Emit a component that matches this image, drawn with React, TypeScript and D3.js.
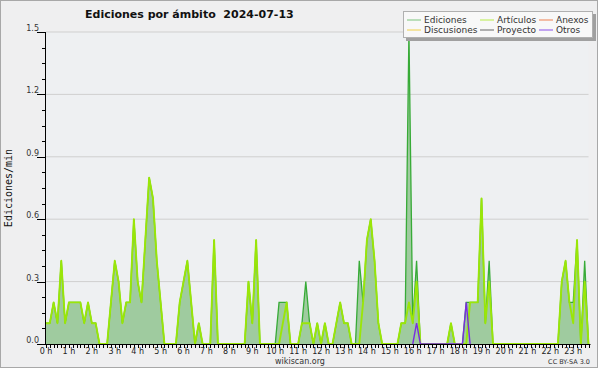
import React from 'react';
import * as d3 from 'd3';

// edits per minute, one value per 10 minutes from 00:00 to 23:20
const ediciones = [
  0.1, 0.1, 0.2, 0.1, 0.4, 0.1,
  0.2, 0.2, 0.2, 0.2, 0.1, 0.2,
  0.1, 0.1, 0, 0, 0, 0.2,
  0.4, 0.3, 0.1, 0.2, 0.2, 0.6,
  0.3, 0.2, 0.5, 0.8, 0.7, 0.4,
  0.2, 0, 0, 0, 0, 0.2,
  0.3, 0.4, 0.2, 0, 0.1, 0,
  0, 0, 0.5, 0, 0, 0,
  0, 0, 0, 0, 0, 0.3,
  0.1, 0.5, 0, 0, 0, 0,
  0, 0.2, 0.2, 0.2, 0, 0,
  0, 0.1, 0.3, 0.1, 0, 0.1,
  0, 0.1, 0, 0, 0.1, 0.2,
  0.1, 0.1, 0, 0, 0.4, 0.2,
  0.5, 0.6, 0.4, 0.1, 0, 0,
  0, 0, 0, 0.1, 0.1, 1.5,
  0.1, 0.4, 0, 0, 0, 0,
  0, 0, 0, 0, 0.1, 0,
  0, 0, 0.2, 0.2, 0.2, 0.2,
  0.7, 0.1, 0.4, 0, 0, 0,
  0, 0, 0, 0, 0, 0,
  0, 0, 0, 0, 0, 0,
  0, 0, 0, 0.3, 0.4, 0.2,
  0.2, 0.5, 0, 0.4, 0,
];

const articulos = [
  0.1, 0.1, 0.2, 0.1, 0.4, 0.1,
  0.2, 0.2, 0.2, 0.2, 0.1, 0.2,
  0.1, 0.1, 0, 0, 0, 0.2,
  0.4, 0.3, 0.1, 0.2, 0.2, 0.6,
  0.3, 0.2, 0.5, 0.8, 0.7, 0.4,
  0.2, 0, 0, 0, 0, 0.2,
  0.3, 0.4, 0.2, 0, 0.1, 0,
  0, 0, 0.5, 0, 0, 0,
  0, 0, 0, 0, 0, 0.3,
  0.1, 0.5, 0, 0, 0, 0,
  0, 0, 0.1, 0.2, 0, 0,
  0, 0.1, 0.1, 0.1, 0, 0.1,
  0, 0.1, 0, 0, 0.1, 0.2,
  0.1, 0.1, 0, 0, 0, 0.2,
  0.5, 0.6, 0.4, 0.1, 0, 0,
  0, 0, 0, 0.1, 0.1, 0.2,
  0.1, 0.3, 0, 0, 0, 0,
  0, 0, 0, 0, 0.1, 0,
  0, 0, 0, 0.2, 0.2, 0.2,
  0.7, 0.1, 0.3, 0, 0, 0,
  0, 0, 0, 0, 0, 0,
  0, 0, 0, 0, 0, 0,
  0, 0, 0, 0.3, 0.4, 0.2,
  0.1, 0.5, 0, 0.3, 0,
];

// only the slots where "Otros" is non zero
const otrosSlots = [96, 97, 98, 109, 110, 111];
const otrosValues = [0, 0.1, 0, 0, 0.2, 0];

const hours = d3.range(24);
const yTicks = [0, 0.3, 0.6, 0.9, 1.2, 1.5];

const legend = [
  { name: 'Ediciones', color: '#7cc47c' },
  { name: 'Artículos', color: '#b8ec4a' },
  { name: 'Anexos', color: '#ee8050' },
  { name: 'Discusiones', color: '#f0d048' },
  { name: 'Proyecto', color: '#666666' },
  { name: 'Otros', color: '#8a4ee8' },
];

const W = 600;
const H = 370;
const margin = { top: 32, right: 11.5, bottom: 26, left: 46 };

export default function App() {
  const x = d3
    .scaleLinear()
    .domain([0, ediciones.length - 1])
    .range([margin.left, W - margin.right]);
  const y = d3
    .scaleLinear()
    .domain([0, 1.5])
    .range([H - margin.bottom, margin.top]);

  const area = d3
    .area<number>()
    .x((d, i) => x(i))
    .y0(y(0))
    .y1((d) => y(d));
  const line = d3
    .line<number>()
    .x((d, i) => x(i))
    .y((d) => y(d));
  const otrosLine = d3
    .line<number>()
    .x((d, i) => x(otrosSlots[i]))
    .y((d) => y(d));

  const minorY = d3.range(0, 1.5001, 0.075);
  const minorX = d3.range(0, ediciones.length);
  const font = 'DejaVu Sans, sans-serif';

  return (
    <div style={{ position: 'absolute', left: 0, top: 0 }}>
      <svg width={W} height={H} style={{ display: 'block', fontFamily: font }}>
        <rect x={0} y={0} width={W} height={H} fill="#ffffff" />
        <rect x={0.5} y={0.5} width={597} height={367} fill="#efeff0" stroke="#a8a8a8" />
        <rect
          x={margin.left}
          y={margin.top}
          width={W - margin.right - margin.left}
          height={H - margin.bottom - margin.top}
          fill="#eef0f2"
        />

        {yTicks.slice(1).map((t) => (
          <line
            key={t}
            x1={margin.left}
            x2={W - margin.right}
            y1={y(t)}
            y2={y(t)}
            stroke="#cfcfcf"
          />
        ))}

        <path d={area(ediciones) || ''} fill="#9fcb9f" />
        <path d={line(ediciones) || ''} fill="none" stroke="#37ab37" strokeWidth={1.3} />
        <path
          d={line(articulos) || ''}
          fill="none"
          stroke="#9ae608"
          strokeWidth={1.9}
          strokeLinejoin="round"
        />
        <path d={otrosLine(otrosValues) || ''} fill="none" stroke="#7a2ee0" strokeWidth={1.4} />

        {/* axes */}
        <line x1={margin.left} x2={W - margin.right + 2} y1={y(0) + 0.5} y2={y(0) + 0.5} stroke="#000" />
        <line x1={margin.left - 0.5} x2={margin.left - 0.5} y1={margin.top} y2={y(0) + 1} stroke="#000" />
        {minorY.map((t, i) => (
          <line
            key={i}
            x1={margin.left - (i % 4 === 0 ? 9 : 4)}
            x2={margin.left}
            y1={Math.round(y(t)) + 0.5}
            y2={Math.round(y(t)) + 0.5}
            stroke="#000"
          />
        ))}
        {yTicks.map((t) => (
          <text key={t} x={margin.left - 7} y={y(t) - 1} textAnchor="end" fontSize={8} fill="#333">
            {d3.format('.1f')(t)}
          </text>
        ))}
        {minorX.map((i) => (
          <line
            key={i}
            x1={Math.round(x(i)) + 0.5}
            x2={Math.round(x(i)) + 0.5}
            y1={y(0)}
            y2={y(0) + 4}
            stroke="#000"
          />
        ))}
        {hours.map((h) => (
          <text key={h} x={x(h * 6)} y={353.5} textAnchor="middle" fontSize={8} fill="#222">
            {`${h} h`}
          </text>
        ))}

        <text
          transform="translate(12,188) rotate(-90)"
          textAnchor="middle"
          fontSize={10}
          fontFamily="DejaVu Sans Mono, monospace"
          fill="#111"
        >
          Ediciones/min
        </text>
        <text x={85} y={18} fontSize={11} fontWeight="bold" fill="#111" style={{ whiteSpace: 'pre' }}>
          {'Ediciones por ámbito  2024-07-13'}
        </text>
        <text x={300} y={364} textAnchor="middle" fontSize={8} fill="#333">
          wikiscan.org
        </text>
        <text x={590} y={364} textAnchor="end" fontSize={6.5} fill="#333">
          CC BY-SA 3.0
        </text>

        {/* legend */}
        <rect x={406} y={14} width={190} height={27} fill="#a0a0a0" />
        <rect x={403.5} y={11.5} width={189} height={26} fill="#f8f8f8" stroke="#b0b0b0" />
        {legend.map((s, i) => {
          const col = i % 3;
          const row = Math.floor(i / 3);
          const lx = [407, 480, 539][col];
          const ly = 19.5 + row * 10;
          return (
            <g key={s.name}>
              <line x1={lx} x2={lx + 14} y1={ly + 0.5} y2={ly + 0.5} stroke={s.color} />
              <text x={lx + 17} y={ly + 3.5} fontSize={9} fill="#333">
                {s.name}
              </text>
            </g>
          );
        })}
      </svg>
    </div>
  );
}
